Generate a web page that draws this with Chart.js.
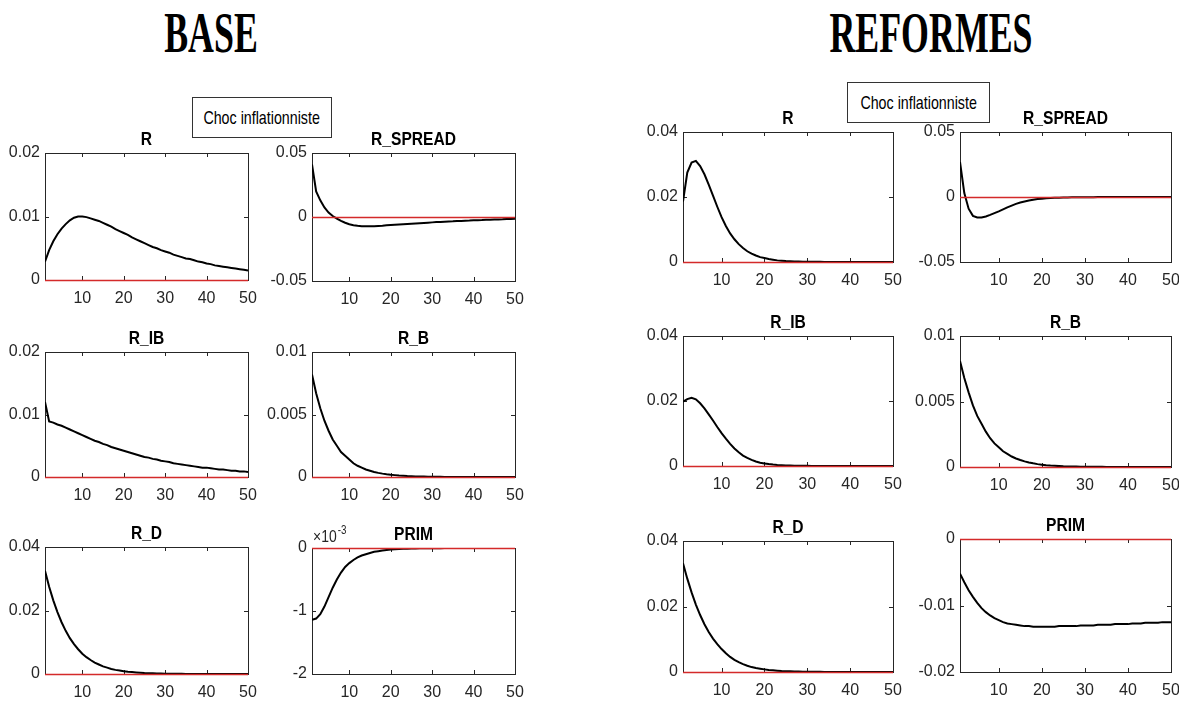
<!DOCTYPE html>
<html>
<head>
<meta charset="utf-8">
<script src="https://cdn.jsdelivr.net/npm/chart.js@4.4.1/dist/chart.umd.min.js"></script>
<style>
html, body { margin: 0; padding: 0; background: #fff; overflow: hidden; }
body { width: 1179px; height: 705px; position: relative; }
.group-title {
	position: absolute; top: 3px; width: 400px; text-align: center;
	font-family: "Liberation Serif", "Times New Roman", serif; font-weight: bold;
	font-size: 56px; line-height: 60px; color: #000;
	transform: scaleX(0.64); white-space: nowrap;
}
.choc {
	position: absolute; z-index: 2; box-sizing: border-box;
	border: 1px solid #333; background: #fff; color: #000;
	font-family: "Liberation Sans", Arial, sans-serif; font-size: 19px;
	display: flex; align-items: center; justify-content: center; white-space: nowrap;
}
.choc span { display: inline-block; transform: scaleX(0.75); }
canvas { position: absolute; }
</style>
</head>
<body>
<div class="group-title" style="left:11px">BASE</div>
<div class="group-title" style="left:731px">REFORMES</div>
<div class="choc" style="left:192px;top:97px;width:140px;height:41px"><span>Choc inflationniste</span></div>
<div class="choc" style="left:847px;top:82px;width:143px;height:41px"><span>Choc inflationniste</span></div>

<script>
// horizon (periods after the shock)
var periods = [1,2,3,4,5,6,7,8,9,10,11,12,13,14,15,16,17,18,19,20,21,22,23,24,25,
	26,27,28,29,30,31,32,33,34,35,36,37,38,39,40,41,42,43,44,45,46,47,48,49,50];
var xTicks = [10, 20, 30, 40, 50];

// y tick sets
var ticksR = [0, 0.01, 0.02];
var ticksSpread = [-0.05, 0, 0.05];
var ticksRB = [0, 0.005, 0.01];
var ticks004 = [0, 0.02, 0.04];
var ticksPrimBase = [-0.002, -0.001, 0];
var ticksPrimRef = [-0.02, -0.01, 0];

// BASE scenario
var baseR = [0.0029,0.0047,0.0061,0.0072,0.0081,0.0088,0.0094,0.0098,0.0100,0.0100,
	0.0099,0.0097,0.0095,0.0093,0.0090,0.0087,0.0084,0.0080,0.0077,0.0074,
	0.0071,0.0067,0.0064,0.0061,0.0058,0.0055,0.0052,0.0050,0.0047,0.0045,
	0.0043,0.0040,0.0038,0.0036,0.0034,0.0033,0.0031,0.0029,0.0028,0.0026,
	0.0025,0.0023,0.0022,0.0021,0.0020,0.0019,0.0018,0.0017,0.0016,0.0015];
var baseRSpread = [0.041,0.020,0.013,0.0075,0.0035,0.0008,-0.0012,-0.0030,-0.0045,-0.0056,
	-0.0064,-0.0069,-0.0072,-0.0073,-0.0073,-0.0072,-0.0070,-0.0068,-0.0065,-0.0062,
	-0.0060,-0.0058,-0.0056,-0.0054,-0.0052,-0.0050,-0.0048,-0.0046,-0.0044,-0.0042,
	-0.0040,-0.0039,-0.0037,-0.0035,-0.0034,-0.0032,-0.0031,-0.0029,-0.0028,-0.0026,
	-0.0025,-0.0024,-0.0022,-0.0021,-0.0020,-0.0019,-0.0018,-0.0016,-0.0015,-0.0014];
var baseRIB = [0.0120,0.0089,0.0087,0.0084,0.0082,0.0079,0.0076,0.0073,0.0070,0.0067,
	0.0064,0.0061,0.0058,0.0056,0.0053,0.0051,0.0048,0.0046,0.0044,0.0042,
	0.0040,0.0038,0.0036,0.0034,0.0032,0.0031,0.0029,0.0028,0.0026,0.0025,
	0.0024,0.0022,0.0021,0.0020,0.0019,0.0018,0.0017,0.0016,0.0015,0.0015,
	0.0014,0.0013,0.0012,0.0012,0.0011,0.0010,0.0010,0.0009,0.0009,0.0008];
var baseRB = [0.0082,0.0067,0.0055,0.0045,0.0037,0.0030,0.0025,0.0020,0.0017,0.0014,
	0.0011,0.0009,0.00075,0.0006,0.0005,0.0004,0.00033,0.00027,0.00022,0.00018,
	0.00015,0.00012,0.0001,0.00008,0.00007,0.00005,0.00004,0.00004,0.00003,0.00002,
	0.00002,0.00002,0.00001,0.00001,0.00001,0.00001,0.00001,0,0,0,
	0,0,0,0,0,0,0,0,0,0];
var baseRD = [0.0325,0.0275,0.0232,0.0195,0.0163,0.0136,0.0113,0.0094,0.0078,0.0064,
	0.0053,0.0044,0.0036,0.0030,0.0024,0.0020,0.0016,0.0013,0.0011,0.0009,
	0.0007,0.0006,0.0005,0.0004,0.0003,0.00025,0.0002,0.00016,0.00013,0.0001,
	0.00008,0.00006,0.00005,0.00004,0.00003,0.00003,0.00002,0.00002,0.00001,0.00001,
	0.00001,0.00001,0,0,0,0,0,0,0,0];
var basePrim = [-0.00114,-0.00112,-0.00105,-0.00093,-0.00078,-0.00063,-0.00050,-0.00039,-0.00030,-0.00024,
	-0.00019,-0.00015,-0.00012,-0.00010,-0.00008,-0.00006,-0.00005,-0.00004,-0.00003,-0.000025,
	-0.00002,-0.000015,-0.000012,-0.00001,-0.000008,-0.000006,-0.000005,-0.000004,-0.000003,-0.000002,
	-0.000002,-0.000002,-0.000001,-0.000001,-0.000001,-0.000001,-0.000001,0,0,0,
	0,0,0,0,0,0,0,0,0,0];

// REFORMES scenario
var refR = [0.0186,0.0275,0.0306,0.0311,0.0295,0.0270,0.0238,0.0204,0.0170,0.0138,
	0.0111,0.0088,0.0070,0.0055,0.0043,0.0033,0.0026,0.0020,0.0015,0.0012,
	0.0009,0.0007,0.0005,0.0004,0.0003,0.00023,0.00018,0.00014,0.0001,0.00008,
	0.00006,0.00005,0.00004,0.00003,0.00002,0.00002,0.00001,0.00001,0.00001,0.00001,
	0,0,0,0,0,0,0,0,0,0];
var refRSpread = [0.027,0.003,-0.009,-0.0145,-0.0158,-0.0158,-0.0150,-0.0138,-0.0124,-0.0110,
	-0.0095,-0.0080,-0.0066,-0.0053,-0.0042,-0.0034,-0.0027,-0.0021,-0.0016,-0.0013,
	-0.0010,-0.0008,-0.0006,-0.0005,-0.0004,-0.0003,-0.00025,-0.0002,-0.00015,-0.00012,
	-0.0001,-0.0001,-0.00008,-0.00007,-0.00006,-0.00005,-0.00004,-0.00004,-0.00003,-0.00003,
	-0.00002,-0.00002,-0.00002,-0.00001,-0.00001,-0.00001,-0.00001,0,0,0];
var refRIB = [0.0198,0.0206,0.0210,0.0205,0.0193,0.0177,0.0159,0.0140,0.0120,0.0101,
	0.0084,0.0068,0.0054,0.0042,0.0032,0.0025,0.0019,0.0014,0.0010,0.0008,
	0.0006,0.00045,0.00033,0.00025,0.00018,0.00013,0.0001,0.00007,0.00005,0.00004,
	0.00003,0.00002,0.00002,0.00001,0.00001,0.00001,0,0,0,0,
	0,0,0,0,0,0,0,0,0,0];
var refRB = [0.0081,0.0068,0.0057,0.0047,0.0039,0.0033,0.0027,0.0022,0.0018,0.0015,
	0.0012,0.0010,0.0008,0.00065,0.00053,0.00043,0.00035,0.00028,0.00022,0.00018,
	0.00014,0.00011,0.00009,0.00007,0.00005,0.00004,0.00003,0.00003,0.00002,0.00002,
	0.00001,0.00001,0.00001,0.00001,0,0,0,0,0,0,
	0,0,0,0,0,0,0,0,0,0];
var refRD = [0.0332,0.0285,0.0243,0.0206,0.0174,0.0146,0.0122,0.0102,0.0085,0.0070,
	0.0057,0.0046,0.0037,0.0030,0.0024,0.0019,0.0015,0.0012,0.0010,0.0008,
	0.0006,0.0005,0.0004,0.0003,0.00025,0.0002,0.00015,0.00012,0.0001,0.00008,
	0.00006,0.00005,0.00004,0.00003,0.00002,0.00002,0.00001,0.00001,0.00001,0.00001,
	0,0,0,0,0,0,0,0,0,0];
var refPrim = [-0.0052,-0.0065,-0.0077,-0.0087,-0.0096,-0.0104,-0.0110,-0.0115,-0.0119,-0.0122,
	-0.0125,-0.0127,-0.0128,-0.0129,-0.0130,-0.0131,-0.0131,-0.0132,-0.0132,-0.0132,
	-0.0132,-0.0132,-0.0132,-0.0131,-0.0131,-0.0131,-0.0131,-0.0131,-0.0130,-0.0130,
	-0.0130,-0.0130,-0.0129,-0.0129,-0.0129,-0.0129,-0.0128,-0.0128,-0.0128,-0.0128,
	-0.0127,-0.0127,-0.0127,-0.0126,-0.0126,-0.0126,-0.0126,-0.0125,-0.0125,-0.0125];

// plot areas: [left, top, right, bottom] in page pixels
var panels = [
	{title: 'R', data: baseR, yTicks: ticksR, area: [45, 153, 248, 280]},
	{title: 'R_SPREAD', data: baseRSpread, yTicks: ticksSpread, area: [312, 153, 515, 281]},
	{title: 'R_IB', data: baseRIB, yTicks: ticksR, area: [45, 352, 248, 477]},
	{title: 'R_B', data: baseRB, yTicks: ticksRB, area: [312, 352, 515, 477]},
	{title: 'R_D', data: baseRD, yTicks: ticks004, area: [45, 547, 248, 674]},
	{title: 'PRIM', data: basePrim, yTicks: ticksPrimBase, area: [312, 548, 515, 674], exp: true},
	{title: 'R', data: refR, yTicks: ticks004, area: [683, 132, 893, 262]},
	{title: 'R_SPREAD', data: refRSpread, yTicks: ticksSpread, area: [960, 132, 1171, 262]},
	{title: 'R_IB', data: refRIB, yTicks: ticks004, area: [683, 336, 893, 466]},
	{title: 'R_B', data: refRB, yTicks: ticksRB, area: [960, 336, 1171, 467]},
	{title: 'R_D', data: refRD, yTicks: ticks004, area: [683, 541, 893, 672]},
	{title: 'PRIM', data: refPrim, yTicks: ticksPrimRef, area: [960, 539, 1171, 672]}
];

var FONT = "'Liberation Sans', Arial, sans-serif";
var AXIS_W = 50, AXIS_H = 30, PAD_TOP = 32, PAD_RIGHT = 14;
var SQUEEZE = 0.82;  // matlab export looks horizontally condensed

function line(ctx, x1, y1, x2, y2) {
	ctx.beginPath();
	ctx.moveTo(x1, y1);
	ctx.lineTo(x2, y2);
	ctx.stroke();
}

// condensed text drawn at (x, y)
function squeezedText(ctx, txt, x, y) {
	ctx.save();
	ctx.translate(x, y);
	ctx.scale(SQUEEZE, 1);
	ctx.fillText(txt, 0, 0);
	ctx.restore();
}

// matlab-like axes: full box, inward ticks, red zero line, bold title
var matlabAxes = {
	id: 'matlabAxes',
	beforeDatasetsDraw: function(chart) {
		var a = chart.chartArea, ctx = chart.ctx;
		var xs = chart.scales.x, ys = chart.scales.y;
		ctx.save();
		ctx.strokeStyle = '#262626';
		ctx.lineWidth = 1;
		ctx.strokeRect(Math.round(a.left) + 0.5, Math.round(a.top) + 0.5,
			Math.round(a.right - a.left), Math.round(a.bottom - a.top));
		xs.ticks.forEach(function(t) {
			var px = Math.round(xs.getPixelForValue(t.value)) + 0.5;
			line(ctx, px, a.bottom, px, a.bottom - 4);
			line(ctx, px, a.top, px, a.top + 4);
		});
		ys.ticks.forEach(function(t) {
			var py = Math.round(ys.getPixelForValue(t.value)) + 0.5;
			line(ctx, a.left, py, a.left + 4, py);
			line(ctx, a.right, py, a.right - 4, py);
		});
		ctx.restore();
	},
	afterDatasetsDraw: function(chart) {
		var a = chart.chartArea, ctx = chart.ctx;
		var py = Math.round(chart.scales.y.getPixelForValue(0)) + 0.5;
		ctx.save();
		ctx.strokeStyle = '#d42a2a';
		ctx.lineWidth = 1.5;
		line(ctx, a.left, py, a.right, py);
		ctx.restore();
	},
	afterDraw: function(chart, args, opts) {
		var a = chart.chartArea, ctx = chart.ctx;
		ctx.save();
		ctx.fillStyle = '#000';
		ctx.font = 'bold 19px ' + FONT;
		ctx.textAlign = 'center';
		ctx.textBaseline = 'alphabetic';
		squeezedText(ctx, opts.title, (a.left + a.right) / 2, a.top - 8);
		if (opts.exp) {
			ctx.fillStyle = '#262626';
			ctx.textAlign = 'left';
			ctx.font = '17px ' + FONT;
			squeezedText(ctx, '\u00d710', a.left + 1, a.top - 6);
			var w = ctx.measureText('\u00d710').width * SQUEEZE;
			ctx.font = '12px ' + FONT;
			squeezedText(ctx, '-3', a.left + 2 + w, a.top - 14);
		}
		ctx.restore();
	}
};

panels.forEach(function(p) {
	var L = p.area[0], T = p.area[1], R = p.area[2], B = p.area[3];
	var cv = document.createElement('canvas');
	var w = (R - L) + AXIS_W + PAD_RIGHT;
	var h = (B - T) + PAD_TOP + AXIS_H;
	cv.width = w;
	cv.height = h;
	cv.style.left = (L - AXIS_W) + 'px';
	cv.style.top = (T - PAD_TOP) + 'px';
	cv.style.width = w + 'px';
	cv.style.height = h + 'px';
	document.body.appendChild(cv);

	var yt = p.yTicks;
	new Chart(cv, {
		type: 'line',
		data: {
			labels: periods,
			datasets: [{
				data: p.data,
				borderColor: '#000',
				borderWidth: 2,
				pointRadius: 0,
				tension: 0,
				fill: false
			}]
		},
		options: {
			responsive: false,
			animation: false,
			events: [],
			layout: {padding: {top: PAD_TOP, right: PAD_RIGHT, left: 0, bottom: 0}},
			plugins: {
				legend: {display: false},
				tooltip: {enabled: false},
				matlabAxes: {title: p.title, exp: !!p.exp}
			},
			scales: {
				x: {
					type: 'linear',
					min: 1,
					max: 50,
					grid: {display: false, drawTicks: false},
					border: {display: false},
					afterBuildTicks: function(s) {
						s.ticks = xTicks.map(function(v) { return {value: v}; });
					},
					afterFit: function(s) {
						s.height = AXIS_H;
						s.paddingLeft = 0;
						s.paddingRight = 0;
					},
					ticks: {
						padding: 9,
						maxRotation: 0,
						color: '#262626',
						font: {family: FONT, size: 16},
						callback: function(v) { return String(v); }
					}
				},
				y: {
					min: yt[0],
					max: yt[yt.length - 1],
					grid: {display: false, drawTicks: false},
					border: {display: false},
					afterBuildTicks: function(s) {
						s.ticks = yt.map(function(v) { return {value: v}; });
					},
					afterFit: function(s) {
						s.width = AXIS_W;
						s.paddingTop = 0;
						s.paddingBottom = 0;
					},
					ticks: {
						padding: 5,
						color: '#262626',
						font: {family: FONT, size: 16},
						callback: function(v) {
							if (p.exp) return String(Math.round(v * 1000));
							return String(v);
						}
					}
				}
			}
		},
		plugins: [matlabAxes]
	});
});
</script>
</body>
</html>
